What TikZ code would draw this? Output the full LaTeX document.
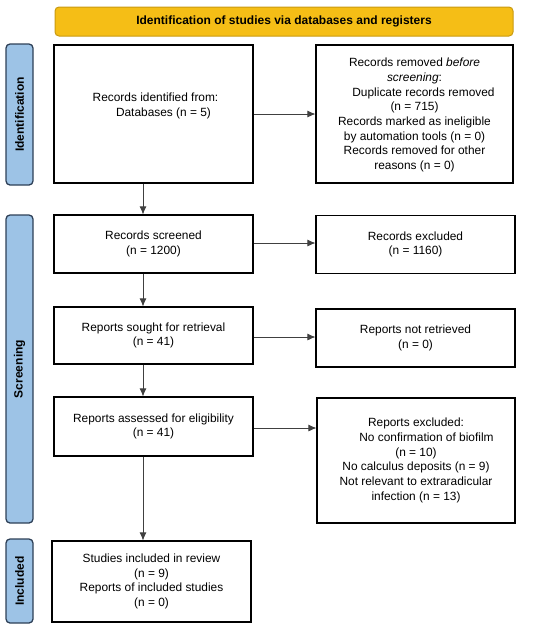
\documentclass[tikz,border=0pt]{standalone}
\usepackage{fontspec}
\setmainfont{Liberation Sans}
\usetikzlibrary{arrows.meta}
\definecolor{hdrfill}{HTML}{F5BE16}
\definecolor{hdrdraw}{HTML}{C99A10}
\definecolor{barfill}{HTML}{9DC3E6}
\definecolor{bardraw}{HTML}{2E4057}
\begin{document}
\begin{tikzpicture}[x=1pt,y=-1pt,
  txt/.style={align=center,font=\fontsize{11.9}{14.7}\selectfont,inner sep=2pt},
  box/.style={txt,draw=black,line width=1.1pt,fill=white},
  bar/.style={draw=bardraw,fill=barfill,line width=1.3pt,rounded corners=4pt},
  bartext/.style={rotate=90,font=\bfseries\fontsize{12}{14}\selectfont},
  arr/.style={draw=black!75,line width=0.8pt,-{Latex[length=8pt,width=7pt]}}]
\useasboundingbox (0,0) rectangle (550,630);
% header
\node[draw=hdrdraw,fill=hdrfill,line width=1pt,rounded corners=4pt,minimum width=458pt,minimum height=29pt,font=\bfseries\fontsize{12}{14}\selectfont] (hdr) at (284,21.5) {Identification of studies via databases and registers};
% side bars
\node[bar,minimum width=27pt,minimum height=141pt] (bid) at (19.5,114.5) {};
\node[bartext] at (bid.center) {Identification};
\node[bar,minimum width=27pt,minimum height=308pt] (bsc) at (19.5,369) {};
\node[bartext] at (bsc.center) {Screening};
\node[bar,minimum width=27pt,minimum height=84pt] (bin) at (19.5,581) {};
\node[bartext] at (bin.center) {Included};
% boxes
\node[box,minimum width=199pt,minimum height=138pt] (ident) at (153.5,114) {};
\node[txt] (identtxt) at (ident.center) [yshift=8pt,xshift=2pt] {Records identified from:\\\hspace*{16pt}Databases (n = 5)};
\node[box,minimum width=197pt,minimum height=138pt] (removed) at (414.5,114) {};
\node[txt] (removedtxt) at (removed.center) [yshift=-1pt] {Records removed \textit{before}\\\textit{screening}:\\\hspace*{18pt}Duplicate records removed\\(n = 715)\\Records marked as ineligible\\by automation tools (n = 0)\\Records removed for other\\reasons (n = 0)};
\node[box,minimum width=199pt,minimum height=58pt] (screened) at (153.5,244) {Records screened\\(n = 1200)};
\node[box,minimum width=199pt,minimum height=58pt] (excluded) at (415.5,244.5) {Records excluded\\(n = 1160)};
\node[box,minimum width=199pt,minimum height=57pt] (sought) at (153.5,335.5) {Reports sought for retrieval\\(n = 41)};
\node[box,minimum width=199pt,minimum height=58pt] (notret) at (415.5,338) {Reports not retrieved\\(n = 0)};
\node[box,minimum width=199pt,minimum height=59pt] (assessed) at (153.5,426.5) {Reports assessed for eligibility\\(n = 41)};
\node[box,minimum width=198pt,minimum height=125pt] (repexcl) at (416,460.5) {Reports excluded:\\\hspace*{21pt}No confirmation of biofilm\\(n = 10)\\No calculus deposits (n = 9)\\Not relevant to extraradicular\\infection (n = 13)};
\node[box,minimum width=199pt,minimum height=81pt] (included) at (151.5,581.5) {Studies included in review\\(n = 9)\\Reports of included studies\\(n = 0)};
% arrows
\draw[arr] (ident.east |- 0,114) -- (removed.west |- 0,114);
\draw[arr] (screened.east |- 0,243) -- (excluded.west |- 0,243);
\draw[arr] (sought.east |- 0,337) -- (notret.west |- 0,337);
\draw[arr] (assessed.east |- 0,428) -- (repexcl.west |- 0,428);
\draw[arr] (ident.south -| 143,0) -- (screened.north -| 143,0);
\draw[arr] (screened.south -| 143,0) -- (sought.north -| 143,0);
\draw[arr] (sought.south -| 143,0) -- (assessed.north -| 143,0);
\draw[arr] (assessed.south -| 143,0) -- (included.north -| 143,0);
\end{tikzpicture}
\end{document}
